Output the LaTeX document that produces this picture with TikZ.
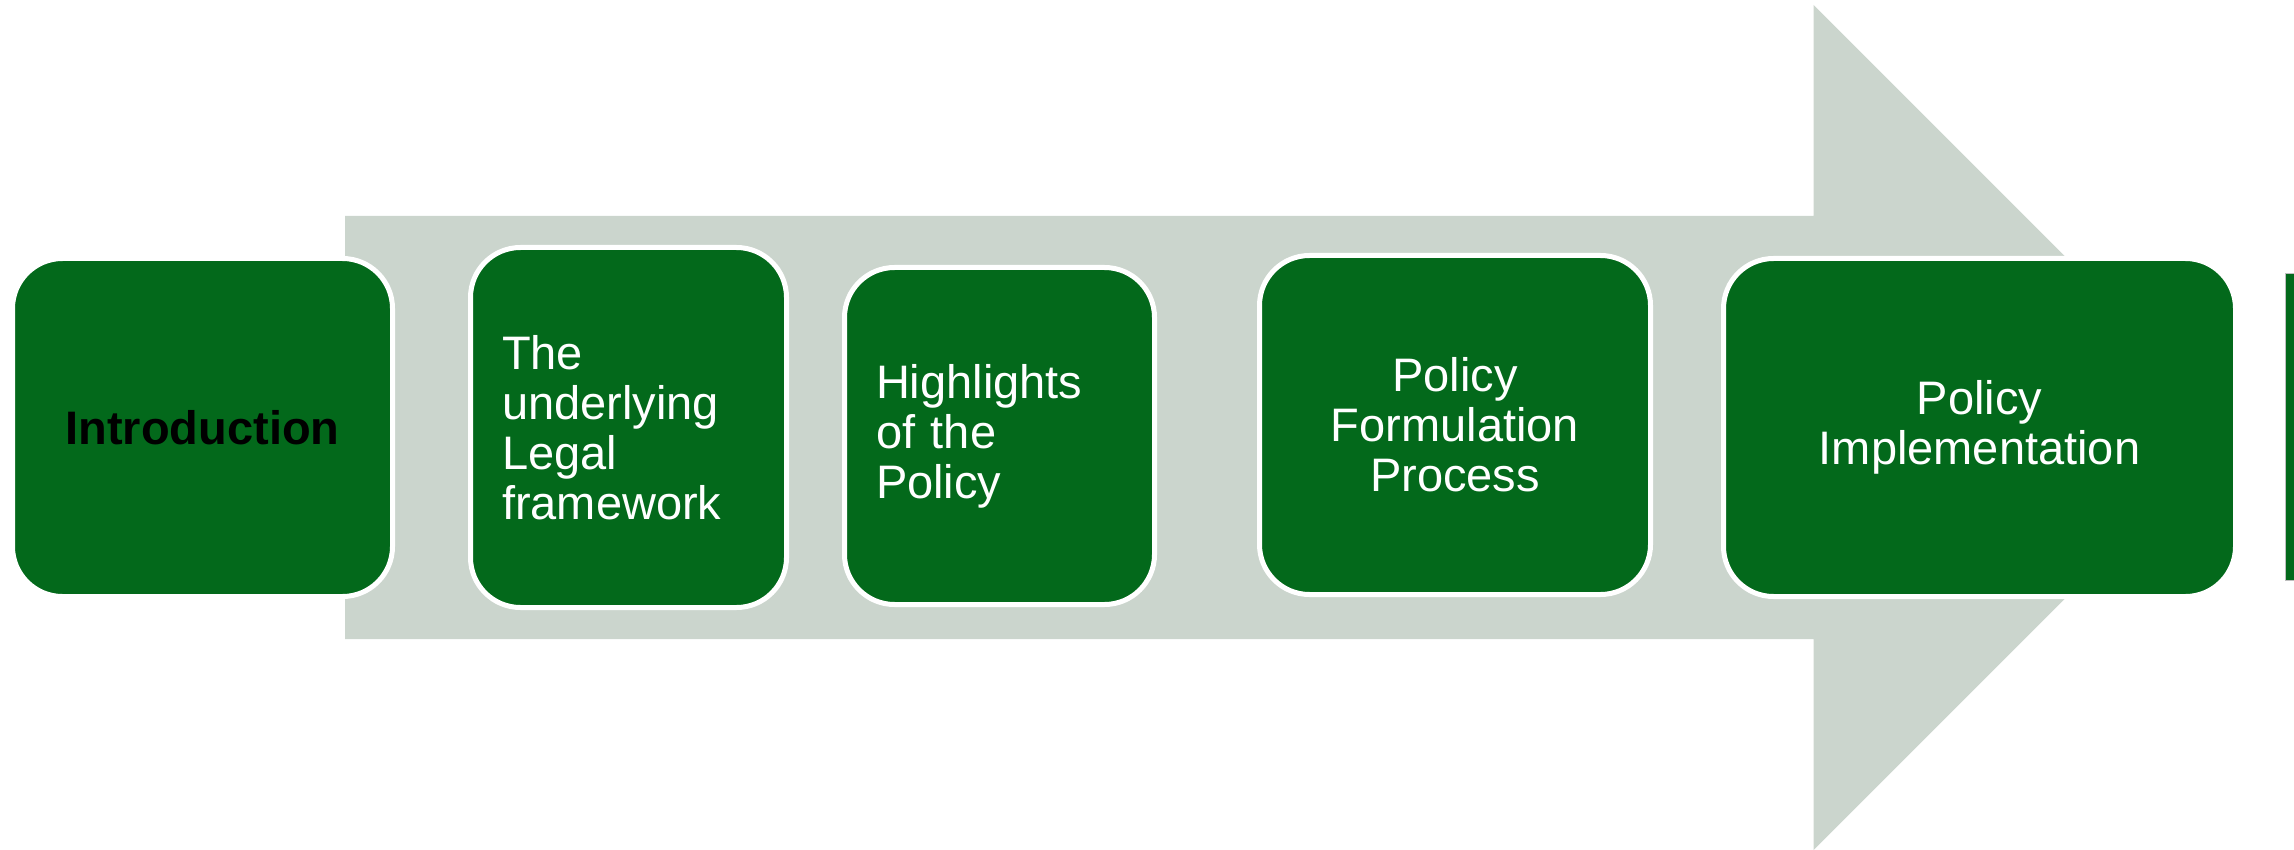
\documentclass[tikz,border=0pt]{standalone}
\usepackage{fontspec}
\setmainfont{Liberation Sans}
\definecolor{boxgreen}{RGB}{3,105,27}
\definecolor{arrowgrey}{RGB}{203,213,205}
\begin{document}
\begin{tikzpicture}[x=1pt,y=-1pt,
  stepbox/.style={draw=white, line width=5pt, fill=boxgreen, rounded corners=50pt,
    inner sep=0pt, text=white, font=\fontsize{47}{50}\selectfont},
  barbox/.style={fill=boxgreen, draw=black!25, line width=1pt, inner sep=0pt, anchor=north west}]
\useasboundingbox (0,0) rectangle (2294,850);
% big grey arrow
\fill[arrowgrey] (345,216) -- (1813.6,216) -- (1813.6,5) -- (2236,427.5)
  -- (1813.6,850) -- (1813.6,639) -- (345,639) -- cycle;
% boxes
\node[stepbox, minimum width=380pt, minimum height=338pt, text=black,
  font=\fontsize{47}{50}\selectfont\bfseries] (intro) at (202.5,427.5) {Introduction};
\node[stepbox, minimum width=316pt, minimum height=360pt, text width=253pt, align=left]
  (legal) at (628.5,427.5) {The\\underlying\\Legal\\framework};
\node[stepbox, minimum width=310pt, minimum height=337pt, text width=247pt, align=left]
  (high) at (999.5,436) {Highlights\\of the\\Policy};
\node[stepbox, minimum width=391pt, minimum height=339pt, align=center]
  (form) at (1455,425) {Policy\\Formulation\\Process};
\node[stepbox, minimum width=512pt, minimum height=338pt, align=center]
  (impl) at (1979.5,427.5) {Policy\\Implementation};
% cut-off box at the right edge
\node[barbox, minimum width=20pt, minimum height=307pt] (next) at (2285,273) {};
\end{tikzpicture}
\end{document}
